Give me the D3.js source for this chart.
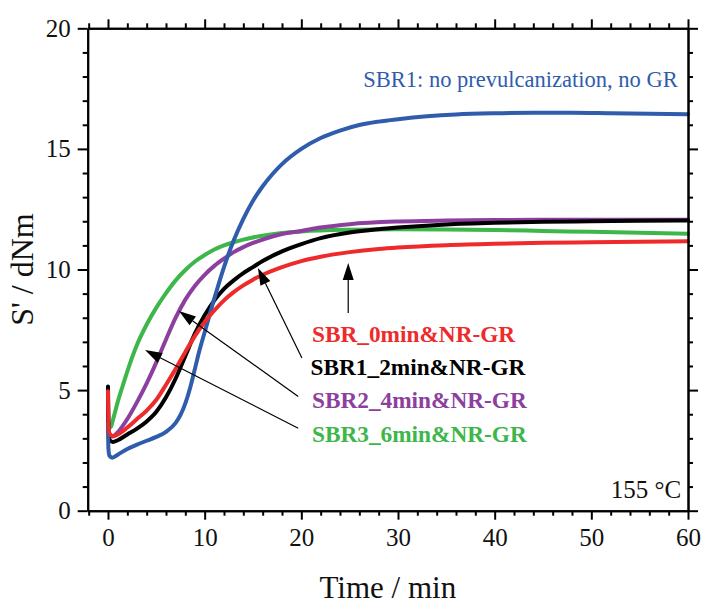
<!DOCTYPE html>
<html>
<head>
<meta charset="utf-8">
<script src="https://cdn.jsdelivr.net/npm/d3@7/dist/d3.min.js"></script>
<style>
  html, body { margin: 0; padding: 0; background: #fff; }
  svg { display: block; }
  text { font-family: "Liberation Serif", "Times New Roman", serif; }
</style>
</head>
<body>
<svg id="chart" width="703" height="606"></svg>
<script>
// Cure curves: storage modulus S' (dNm) versus time (min) at 155 °C
const timeSBR1 = [0, 0.04, 0.15, 0.45, 1, 2, 3, 4, 5, 6, 7, 7.5, 8, 8.5, 9, 9.5, 10, 11, 12, 13, 14, 15, 16, 17, 18, 20, 22, 24, 26, 28, 30, 33, 36, 40, 44, 48, 52, 56, 60];
const valSBR1  = [3.6, 2.6, 2.28, 2.2, 2.32, 2.56, 2.74, 2.9, 3.06, 3.27, 3.64, 3.97, 4.45, 5.1, 5.9, 6.7, 7.4, 8.8, 10.1, 11.2, 12.1, 12.85, 13.45, 13.95, 14.37, 15.0, 15.45, 15.76, 15.99, 16.13, 16.23, 16.35, 16.43, 16.48, 16.5, 16.5, 16.48, 16.46, 16.44];

const timeSBR0 = [0, 0.04, 0.15, 0.5, 1, 2, 3, 4, 5, 6, 7, 8, 9, 10, 11, 12, 13, 14, 15, 16, 18, 20, 22, 25, 28, 30, 35, 40, 45, 50, 55, 60];
const valSBR0  = [4.95, 3.6, 3.2, 3.1, 3.16, 3.45, 3.8, 4.15, 4.6, 5.22, 5.88, 6.58, 7.25, 7.82, 8.3, 8.72, 9.06, 9.34, 9.58, 9.78, 10.1, 10.35, 10.53, 10.72, 10.85, 10.91, 11.01, 11.07, 11.11, 11.13, 11.15, 11.17];

const timeSBR1_2 = [0, 0.04, 0.15, 0.5, 1, 2, 3, 4, 5, 6, 7, 8, 9, 10, 11, 12, 13, 14, 15, 16, 18, 20, 22, 25, 28, 30, 35, 40, 45, 50, 55, 60];
const valSBR1_2  = [5.15, 3.4, 2.95, 2.85, 2.92, 3.16, 3.4, 3.7, 4.1, 4.7, 5.48, 6.42, 7.35, 8.1, 8.72, 9.2, 9.55, 9.85, 10.1, 10.35, 10.75, 11.05, 11.3, 11.53, 11.67, 11.74, 11.87, 11.94, 11.98, 12.0, 12.02, 12.03];

const timeSBR2_4 = [0, 0.04, 0.15, 0.5, 1, 2, 3, 4, 5, 6, 7, 8, 9, 10, 11, 12, 13, 14, 15, 16, 18, 20, 22, 25, 30, 35, 40, 45, 50, 55, 60];
const valSBR2_4  = [4.5, 3.5, 3.12, 3.08, 3.25, 3.8, 4.5, 5.28, 6.15, 7.1, 8.0, 8.75, 9.33, 9.78, 10.15, 10.45, 10.72, 10.93, 11.1, 11.24, 11.47, 11.6, 11.74, 11.88, 11.99, 12.03, 12.05, 12.06, 12.06, 12.06, 12.06];

const timeSBR3_6 = [0, 0.04, 0.15, 0.3, 0.6, 1, 1.5, 2, 3, 4, 5, 6, 7, 8, 9, 10, 11, 12, 13, 14, 15, 16, 18, 20, 25, 30, 35, 40, 45, 50, 55, 60];
const valSBR3_6  = [4.4, 3.7, 3.45, 3.48, 3.9, 4.5, 5.15, 5.78, 6.88, 7.72, 8.42, 9.02, 9.55, 9.98, 10.33, 10.6, 10.83, 11.0, 11.13, 11.24, 11.33, 11.4, 11.51, 11.58, 11.65, 11.67, 11.66, 11.64, 11.6, 11.56, 11.52, 11.48];

// Series, in drawing order (last drawn on top)
const seriesNames  = ["SBR3_6min&NR-GR", "SBR2_4min&NR-GR", "SBR1_2min&NR-GR", "SBR1: no prevulcanization, no GR", "SBR_0min&NR-GR"];
const seriesTimes  = [timeSBR3_6, timeSBR2_4, timeSBR1_2, timeSBR1, timeSBR0];
const seriesValues = [valSBR3_6, valSBR2_4, valSBR1_2, valSBR1, valSBR0];
const seriesColors = ["#3db64a", "#8c3f9e", "#000000", "#2f5cab", "#ee2a2a"];

// Axis ticks
const xMajor = [0, 10, 20, 30, 40, 50, 60];
const xMinor = d3.range(-2, 61, 2).filter(v => v % 10 !== 0);
const yMajor = [0, 5, 10, 15, 20];
const yMinor = d3.range(0, 21, 1).filter(v => v % 5 !== 0);

// Label annotations with arrows pointing to their curve
const labelTexts  = ["SBR_0min&NR-GR", "SBR1_2min&NR-GR", "SBR2_4min&NR-GR", "SBR3_6min&NR-GR"];
const labelColors = ["#ee2a2a", "#000000", "#8c3f9e", "#3db64a"];
const labelX      = [21.1, 20.95, 21.1, 21.1];
const labelY      = [7.0, 5.62, 4.24, 2.86];
const arrowTail   = [[24.85, 8.2], [20.06, 6.33], [19.68, 4.73], [19.68, 3.42]];
const arrowTip    = [[24.85, 10.27], [15.51, 10.06], [7.34, 8.28], [3.83, 6.66]];

const svg = d3.select("#chart");

const x = d3.scaleLinear().domain([-2.1, 60]).range([87.7, 688]);
const y = d3.scaleLinear().domain([0, 20]).range([510.7, 28.3]);

// Curves
const line = d3.line()
  .x(d => x(d[0]))
  .y(d => y(d[1]))
  .curve(d3.curveMonotoneX);

const curves = svg.append("g").attr("class", "curves");
seriesNames.forEach((name, i) => {
  const pts = seriesTimes[i].map((t, j) => [t, seriesValues[i][j]]);
  curves.append("path")
    .datum(pts)
    .attr("fill", "none")
    .attr("stroke", seriesColors[i])
    .attr("stroke-width", 4)
    .attr("stroke-linejoin", "round")
    .attr("stroke-linecap", "round")
    .attr("d", line);
});

// Axes: full frame, ticks pointing outward on every side
function styleAxis(g) {
  g.selectAll("path.domain").attr("stroke", "#000").attr("stroke-width", 2);
  g.selectAll(".tick line").attr("stroke", "#000").attr("stroke-width", 2);
}

const bottomY = y(0), topY = y(20), leftX = x(-2.1), rightX = x(60);

const xAxis = svg.append("g")
  .attr("transform", `translate(0,${bottomY})`)
  .call(d3.axisBottom(x).tickValues(xMajor).tickSize(9).tickSizeOuter(0).tickPadding(9));
xAxis.call(styleAxis);
xAxis.selectAll("text").attr("font-size", 25).attr("fill", "#111")
  .attr("font-family", "Liberation Serif");

svg.append("g")
  .attr("transform", `translate(0,${bottomY})`)
  .call(d3.axisBottom(x).tickValues(xMinor).tickSize(5).tickSizeOuter(0).tickFormat(""))
  .call(styleAxis);

svg.append("g")
  .attr("transform", `translate(0,${topY})`)
  .call(d3.axisTop(x).tickValues(xMajor).tickSize(9).tickSizeOuter(0).tickFormat(""))
  .call(styleAxis);
svg.append("g")
  .attr("transform", `translate(0,${topY})`)
  .call(d3.axisTop(x).tickValues(xMinor).tickSize(5).tickSizeOuter(0).tickFormat(""))
  .call(styleAxis);

const yAxis = svg.append("g")
  .attr("transform", `translate(${leftX},0)`)
  .call(d3.axisLeft(y).tickValues(yMajor).tickSize(10).tickSizeOuter(0).tickPadding(7));
yAxis.call(styleAxis);
yAxis.selectAll("text").attr("font-size", 25).attr("fill", "#111")
  .attr("font-family", "Liberation Serif");

svg.append("g")
  .attr("transform", `translate(${leftX},0)`)
  .call(d3.axisLeft(y).tickValues(yMinor).tickSize(5).tickSizeOuter(0).tickFormat(""))
  .call(styleAxis);

svg.append("g")
  .attr("transform", `translate(${rightX},0)`)
  .call(d3.axisRight(y).tickValues(yMajor).tickSize(10).tickSizeOuter(0).tickFormat(""))
  .call(styleAxis);
svg.append("g")
  .attr("transform", `translate(${rightX},0)`)
  .call(d3.axisRight(y).tickValues(yMinor).tickSize(5).tickSizeOuter(0).tickFormat(""))
  .call(styleAxis);

// Axis titles
svg.append("text")
  .attr("x", (leftX + rightX) / 2)
  .attr("y", 598)
  .attr("text-anchor", "middle")
  .attr("font-size", 31)
  .attr("fill", "#111")
  .text("Time / min");

svg.append("text")
  .attr("transform", `translate(33,${(topY + bottomY) / 2}) rotate(-90)`)
  .attr("text-anchor", "middle")
  .attr("font-size", 32)
  .attr("fill", "#111")
  .text("S' / dNm");

// Arrows to curves
const arrows = svg.append("g").attr("class", "arrows");
labelTexts.forEach((_, i) => {
  const x0 = x(arrowTail[i][0]), y0 = y(arrowTail[i][1]);
  const x1 = x(arrowTip[i][0]),  y1 = y(arrowTip[i][1]);
  const ang = Math.atan2(y1 - y0, x1 - x0);
  const headLen = 17, headHalf = 5.5;
  const bx = x1 - headLen * Math.cos(ang), by = y1 - headLen * Math.sin(ang);
  arrows.append("line")
    .attr("x1", x0).attr("y1", y0).attr("x2", bx).attr("y2", by)
    .attr("stroke", "#000").attr("stroke-width", 1.2);
  const px = -Math.sin(ang) * headHalf, py = Math.cos(ang) * headHalf;
  arrows.append("path")
    .attr("d", `M${x1},${y1}L${bx + px},${by + py}L${bx - px},${by - py}Z`)
    .attr("fill", "#000");
});

// Curve labels
labelTexts.forEach((txt, i) => {
  svg.append("text")
    .attr("x", x(labelX[i]))
    .attr("y", y(labelY[i]))
    .attr("font-size", 23.3)
    .attr("font-weight", "bold")
    .attr("fill", labelColors[i])
    .text(txt);
});

svg.append("text")
  .attr("x", x(58.93))
  .attr("y", y(17.58))
  .attr("text-anchor", "end")
  .attr("font-size", 22.5)
  .attr("fill", "#2f5cab")
  .text("SBR1: no prevulcanization, no GR");

svg.append("text")
  .attr("x", x(59.3))
  .attr("y", y(0.51))
  .attr("text-anchor", "end")
  .attr("font-size", 25)
  .attr("fill", "#111")
  .text("155 °C");
</script>
</body>
</html>
